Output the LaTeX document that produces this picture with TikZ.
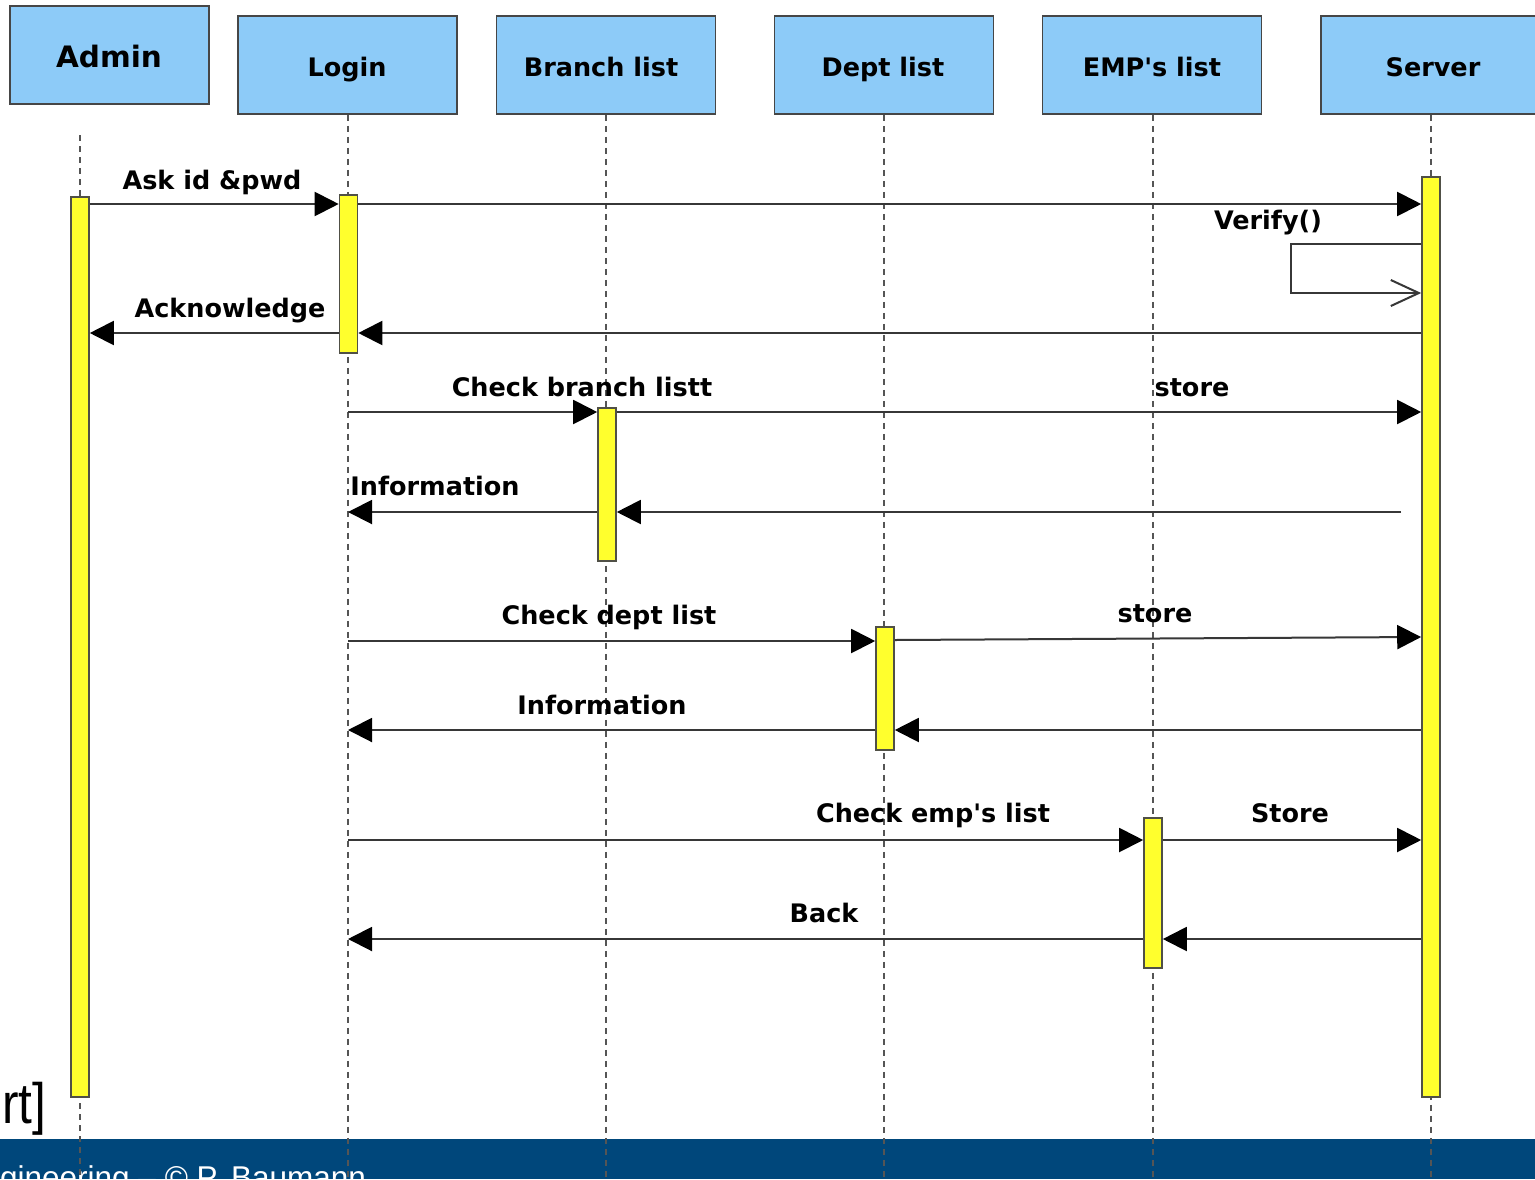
\documentclass[tikz,border=0pt]{standalone}
\usepackage{fontspec}
\usetikzlibrary{arrows.meta}
\newfontfamily\umlfont{DejaVu Sans}
\newfontfamily\slidefont{Liberation Sans}

\definecolor{headblue}{RGB}{141,203,248}
\definecolor{boxline}{RGB}{70,70,70}
\definecolor{actyellow}{RGB}{255,255,45}
\definecolor{actline}{RGB}{80,80,70}
\definecolor{msgline}{RGB}{55,55,55}
\definecolor{lifegray}{RGB}{85,85,85}
\definecolor{footerblue}{RGB}{0,71,123}

\tikzset{
  head/.style={draw=boxline, fill=headblue, line width=1.8pt, inner sep=0pt,
               minimum width=219pt, minimum height=98pt},
  headtext/.style={font=\umlfont\bfseries\fontsize{25.5pt}{30pt}\selectfont, inner sep=0pt, anchor=base},
  lifeline/.style={draw=lifegray, line width=2.2pt, dash pattern=on 6pt off 5pt},
  act/.style={draw=actline, fill=actyellow, line width=1.6pt, inner sep=0pt, minimum width=18pt},
  msg/.style={draw=msgline, line width=2pt, -{Triangle[length=24pt,width=24pt,color=black]}},
  selfmsg/.style={draw=msgline, line width=2pt, -{Straight Barb[length=28pt,width=26pt,line width=2pt]}},
  lbl/.style={font=\umlfont\bfseries\fontsize{25.5pt}{30pt}\selectfont, inner sep=0pt, anchor=base},
}

\begin{document}
\begin{tikzpicture}[x=1pt, y=-1pt]
\useasboundingbox (0,0) rectangle (1535,1179);
\clip (0,0) rectangle (1535,1179);
\fill[white] (0,0) rectangle (1535,1179);

% slide footer bar
\fill[footerblue] (0,1139) rectangle (1535,1179);
\node[font=\slidefont\fontsize{31.5pt}{36pt}\selectfont, text=white, inner sep=0pt, anchor=base west]
  (footer) at (0,1188) {gineering – © P. Baumann};
\node[font=\slidefont\fontsize{57pt}{64pt}\selectfont, inner sep=0pt, anchor=base west, xscale=0.87]
  (slidetext) at (2,1123) {rt]};

% participants
\node[head, minimum width=199pt] (admin) at (109.5,55) {};
\node[head] (login)  at (347.5,65) {};
\node[head] (branch) at (606,65) {};
\node[head] (dept)   at (884,65) {};
\node[head] (emp)    at (1152,65) {};
\node[head] (server) at (1430.5,65) {};

\node[headtext, font=\umlfont\bfseries\fontsize{29.5pt}{34pt}\selectfont] (tadmin) at (109,67) {Admin};
\node[headtext] (tlogin)  at (347,76) {Login};
\node[headtext] (tbranch) at (601,76) {Branch list};
\node[headtext] (tdept)   at (883,76) {Dept list};
\node[headtext] (temp)    at (1152,76) {EMP's list};
\node[headtext] (tserver) at (1433,76) {Server};

% lifeline ends
\coordinate (adminTop) at (80,135);
\coordinate (adminEnd) at (80,1179);
\coordinate (loginEnd) at (348,1179);
\coordinate (branchEnd) at (606,1179);
\coordinate (deptEnd) at (884,1179);
\coordinate (empEnd) at (1153,1179);
\coordinate (serverEnd) at (1431,1179);

% lifelines
\draw[lifeline] (adminTop) -- (adminEnd);
\draw[lifeline] (login.south -| loginEnd) -- (loginEnd);
\draw[lifeline] (branch.south -| branchEnd) -- (branchEnd);
\draw[lifeline] (dept.south -| deptEnd) -- (deptEnd);
\draw[lifeline] (emp.south -| empEnd) -- (empEnd);
\draw[lifeline] (server.south -| serverEnd) -- (serverEnd);

% activation bars
\node[act, minimum height=900pt] (adminAct)  at (80,647) {};
\node[act, minimum height=158pt] (loginAct)  at (348.5,274) {};
\node[act, minimum height=920pt] (serverAct) at (1431,637) {};
\node[act, minimum height=153pt] (branchAct) at (607,484.5) {};
\node[act, minimum height=123pt] (deptAct)   at (885,688.5) {};
\node[act, minimum height=150pt] (empAct)    at (1153,893) {};

% free ends of messages
\coordinate (infoStart) at (1401,512);
\coordinate (loopLeft) at (1291,244);

% messages
\draw[msg] (adminAct.east |- 0,204) -- (loginAct.west |- 0,204);
\draw[msg] (loginAct.east |- 0,204) -- (serverAct.west |- 0,204);
\draw[selfmsg] (serverAct.west |- 0,244) -- (loopLeft) |- (serverAct.west |- 0,293);
\draw[msg] (serverAct.west |- 0,333) -- (loginAct.east |- 0,333);
\draw[msg] (loginAct.west |- 0,333) -- (adminAct.east |- 0,333);

\draw[msg] (loginEnd |- 0,412) -- (branchAct.west |- 0,412);
\draw[msg] (branchAct.east |- 0,412) -- (serverAct.west |- 0,412);
\draw[msg] (infoStart) -- (branchAct.east |- 0,512);
\draw[msg] (branchAct.west |- 0,512) -- (loginEnd |- 0,512);

\draw[msg] (loginEnd |- 0,641) -- (deptAct.west |- 0,641);
\draw[msg] (deptAct.east |- 0,640) -- (serverAct.west |- 0,637);
\draw[msg] (serverAct.west |- 0,730) -- (deptAct.east |- 0,730);
\draw[msg] (deptAct.west |- 0,730) -- (loginEnd |- 0,730);

\draw[msg] (loginEnd |- 0,840) -- (empAct.west |- 0,840);
\draw[msg] (empAct.east |- 0,840) -- (serverAct.west |- 0,840);
\draw[msg] (serverAct.west |- 0,939) -- (empAct.east |- 0,939);
\draw[msg] (empAct.west |- 0,939) -- (loginEnd |- 0,939);

% message labels
\node[lbl] (l1)  at (212,189) {Ask id \&pwd};
\node[lbl] (l2)  at (1268,229) {Verify()};
\node[lbl] (l3)  at (230,317) {Acknowledge};
\node[lbl] (l4)  at (582,396) {Check branch listt};
\node[lbl] (l5)  at (1192,396) {store};
\node[lbl] (l6)  at (435,495) {Information};
\node[lbl] (l7)  at (609,624) {Check dept list};
\node[lbl] (l8)  at (1155,622) {store};
\node[lbl] (l9)  at (602,714) {Information};
\node[lbl] (l10) at (933,822) {Check emp's list};
\node[lbl] (l11) at (1290,822) {Store};
\node[lbl] (l12) at (824,922) {Back};
\end{tikzpicture}
\end{document}
